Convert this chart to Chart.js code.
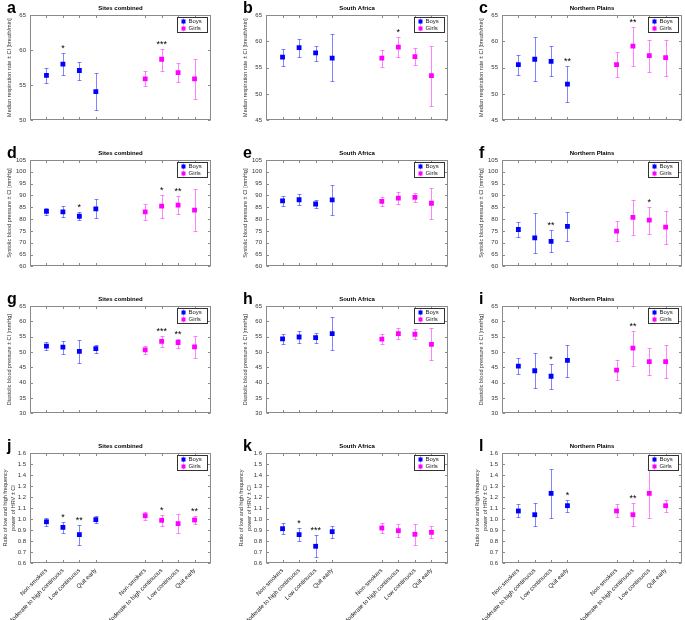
<!DOCTYPE html>
<html>
<head>
<meta charset="utf-8">
<script src="https://cdn.jsdelivr.net/npm/chart.js@4/dist/chart.umd.min.js"></script>
<style>
body{margin:0;background:#fff;width:685px;height:620px;position:relative;overflow:hidden;font-family:'Liberation Sans',Arial,sans-serif}
.letter{position:absolute;font-weight:bold;font-size:16px;line-height:16px;color:#000}
</style>
</head>
<body>
<script>
// categories / groups
var categories = ['Non-smokers', 'Moderate to high continuous', 'Low continuous', 'Quit early'];
var groups = ['Boys', 'Girls'];
var sites = ['Sites combined', 'South Africa', 'Northern Plains'];

// y axis titles and limits (one row per measure)
var yTitles = [
  'Median respiration rate \u00b1 CI [breath/min]',
  'Systolic blood pressure \u00b1 CI [mmHg]',
  'Diastolic blood pressure \u00b1 CI [mmHg]',
  ['Ratio of low and high frequency', 'power of HRV \u00b1 CI']
];
var yMin = [[50, 45, 45], [60, 60, 60], [30, 30, 30], [0.6, 0.6, 0.6]];
var yMax = [65, 105, 65, 1.6];
var yStep = [5, 5, 5, 0.1];

// values: [lower CI, median, upper CI] per category
var aBoys  = [[55.3, 56.4, 57.4], [56.4, 58.0, 59.6], [55.7, 57.1, 58.3], [51.5, 54.1, 56.8]];
var aGirls = [[54.9, 55.9, 57.0], [57.0, 58.7, 60.2], [55.5, 56.8, 58.1], [53.0, 55.9, 58.7]];
var bBoys  = [[55.4, 57.0, 58.6], [57.1, 58.8, 60.5], [56.3, 57.8, 59.2], [52.4, 56.8, 61.3]];
var bGirls = [[55.2, 56.8, 58.3], [57.1, 58.9, 60.9], [55.6, 57.1, 58.7], [47.8, 53.5, 59.2]];
var cBoys  = [[53.7, 55.6, 57.5], [52.5, 56.6, 60.8], [53.4, 56.2, 59.1], [48.4, 51.9, 55.4]];
var cGirls = [[53.2, 55.6, 57.9], [55.3, 59.1, 62.8], [54.2, 57.3, 60.3], [53.4, 56.9, 60.3]];

var dBoys  = [[81.8, 83.3, 84.7], [80.8, 83.1, 85.4], [79.5, 81.2, 83.1], [80.3, 84.3, 88.4]];
var dGirls = [[79.6, 83.1, 86.4], [80.5, 85.5, 90.3], [82.0, 85.9, 89.9], [74.9, 83.8, 92.8]];
var eBoys  = [[85.5, 87.7, 89.9], [85.8, 88.2, 90.8], [84.7, 86.4, 88.2], [81.8, 88.1, 94.4]];
var eGirls = [[85.5, 87.5, 89.5], [86.6, 88.9, 91.4], [87.3, 89.2, 91.2], [80.0, 86.7, 93.2]];
var fBoys  = [[72.3, 75.6, 78.6], [65.5, 72.1, 82.4], [66.0, 70.6, 75.6], [70.9, 76.9, 82.8]];
var fGirls = [[70.9, 74.9, 79.0], [73.2, 80.7, 88.0], [73.9, 79.6, 85.2], [69.3, 76.6, 83.6]];

var gBoys  = [[50.7, 51.9, 53.2], [49.5, 51.6, 53.5], [46.5, 50.2, 53.8], [49.8, 51.1, 52.4]];
var gGirls = [[49.4, 50.7, 51.9], [51.5, 53.5, 55.3], [51.3, 53.1, 54.4], [48.0, 51.7, 55.3]];
var hBoys  = [[52.5, 54.3, 56.0], [52.8, 54.9, 56.9], [53.1, 54.7, 56.2], [50.8, 56.0, 61.4]];
var hGirls = [[52.5, 54.2, 55.9], [54.1, 56.0, 57.8], [54.2, 55.8, 57.4], [47.3, 52.5, 57.8]];
var iBoys  = [[42.8, 45.4, 48.1], [38.3, 43.9, 49.6], [38.0, 42.1, 46.2], [42.0, 47.3, 52.4]];
var iGirls = [[41.0, 44.1, 47.4], [45.5, 51.3, 57.0], [42.4, 46.9, 51.3], [41.5, 46.9, 52.2]];

var jBoys  = [[0.94, 0.975, 1.01], [0.876, 0.924, 0.976], [0.76, 0.858, 0.948], [0.96, 0.994, 1.027]];
var jGirls = [[0.994, 1.03, 1.067], [0.94, 0.988, 1.033], [0.87, 0.958, 1.045], [0.958, 0.991, 1.027]];
var kBoys  = [[0.864, 0.912, 0.96], [0.8, 0.858, 0.918], [0.655, 0.752, 0.855], [0.827, 0.885, 0.94]];
var kGirls = [[0.87, 0.918, 0.967], [0.836, 0.894, 0.952], [0.76, 0.861, 0.958], [0.824, 0.879, 0.933]];
var lBoys  = [[1.015, 1.073, 1.136], [0.936, 1.039, 1.145], [1.009, 1.233, 1.455], [1.067, 1.121, 1.176]];
var lGirls = [[1.015, 1.073, 1.136], [0.936, 1.039, 1.145], [1.009, 1.233, 1.455], [1.067, 1.121, 1.176]];

// significance marks, boys then girls
var aStars = ['', '*', '', '', '', '***', '', ''];
var bStars = ['', '', '', '', '', '*', '', ''];
var cStars = ['', '', '', '**', '', '**', '', ''];
var dStars = ['', '', '*', '', '', '*', '**', ''];
var eStars = ['', '', '', '', '', '', '', ''];
var fStars = ['', '', '**', '', '', '', '*', ''];
var gStars = ['', '', '', '', '', '***', '**', ''];
var hStars = ['', '', '', '', '', '', '', ''];
var iStars = ['', '', '*', '', '', '**', '', ''];
var jStars = ['', '*', '**', '', '', '*', '', '**'];
var kStars = ['', '*', '***', '', '', '', '', ''];
var lStars = ['', '', '', '*', '', '**', '', ''];

var boysData  = [[aBoys, bBoys, cBoys], [dBoys, eBoys, fBoys], [gBoys, hBoys, iBoys], [jBoys, kBoys, lBoys]];
var girlsData = [[aGirls, bGirls, cGirls], [dGirls, eGirls, fGirls], [gGirls, hGirls, iGirls], [jGirls, kGirls, lGirls]];
var starsData = [[aStars, bStars, cStars], [dStars, eStars, fStars], [gStars, hStars, iStars], [jStars, kStars, lStars]];

// layout
var plotLeft = [30, 266, 502], plotRight = [213, 450, 684];
var plotTop = [15, 160, 306, 453], plotBottom = [124, 270, 417, 563];
var letters = 'abcdefghijkl';
var boysColor = '#0000ff', girlsColor = '#ff00ff';
var boysBar = 'rgba(50,50,255,0.6)', girlsBar = 'rgba(255,50,255,0.6)';

Chart.defaults.font.family = "'Liberation Sans', Arial, sans-serif";
Chart.defaults.animation = false;

// error bars, box, inward ticks, title, stars, legend
var panelPlugin = {
  id: 'panel',
  beforeDatasetsDraw: function(chart) {
    var ctx = chart.ctx, ys = chart.scales.y, xs = chart.scales.x;
    ctx.save();
    ctx.lineWidth = 1;
    chart.data.datasets.forEach(function(ds) {
      ctx.strokeStyle = ds.barColor;
      ds.err.forEach(function(e, i) {
        var px = Math.round(xs.getPixelForValue(ds.data[i].x)) + 0.5;
        var lo = Math.round(ys.getPixelForValue(e[0])) + 0.5, hi = Math.round(ys.getPixelForValue(e[2])) + 0.5;
        ctx.beginPath();
        ctx.moveTo(px, lo); ctx.lineTo(px, hi);
        ctx.moveTo(px - 2, lo); ctx.lineTo(px + 2, lo);
        ctx.moveTo(px - 2, hi); ctx.lineTo(px + 2, hi);
        ctx.stroke();
      });
    });
    ctx.restore();
  },
  afterDraw: function(chart, args, opts) {
    var ctx = chart.ctx, a = chart.chartArea, ys = chart.scales.y, xs = chart.scales.x;
    ctx.save();
    // box
    ctx.strokeStyle = '#8a8a8a';
    ctx.lineWidth = 1;
    var L = Math.round(a.left) + 0.5, R = Math.round(a.right) - 0.5, T = Math.round(a.top) + 0.5, B = Math.round(a.bottom) - 0.5;
    ctx.strokeRect(L, T, R - L, B - T);
    ctx.beginPath();
    ys.ticks.forEach(function(t) {
      var py = Math.round(ys.getPixelForValue(t.value)) + 0.5;
      ctx.moveTo(L, py); ctx.lineTo(L + 2.5, py);
      ctx.moveTo(R, py); ctx.lineTo(R - 2.5, py);
    });
    xs.ticks.forEach(function(t) {
      var px = Math.round(xs.getPixelForValue(t.value)) + 0.5;
      ctx.moveTo(px, T); ctx.lineTo(px, T + 2.5);
      ctx.moveTo(px, B); ctx.lineTo(px, B - 2.5);
    });
    ctx.stroke();
    // title
    ctx.fillStyle = '#000';
    ctx.font = "bold 6px 'Liberation Sans', Arial, sans-serif";
    ctx.textAlign = 'center';
    ctx.textBaseline = 'alphabetic';
    ctx.fillText(opts.title, (a.left + a.right) / 2, a.top - 5);
    // stars
    ctx.font = "9px 'Liberation Sans', Arial, sans-serif";
    var k = 0;
    chart.data.datasets.forEach(function(ds) {
      ds.err.forEach(function(e, i) {
        var s = opts.stars[k++];
        if (!s) return;
        ctx.fillText(s, xs.getPixelForValue(ds.data[i].x), ys.getPixelForValue(e[2]) - 2);
      });
    });
    // legend
    var bw = 30, bh = 15, bx = Math.round(a.right) - 4 - bw + 0.5, by = Math.round(a.top) + 2 + 0.5;
    ctx.fillStyle = '#fff';
    ctx.fillRect(bx, by, bw, bh);
    ctx.strokeStyle = '#333';
    ctx.strokeRect(bx, by, bw, bh);
    ctx.font = "6px 'Liberation Sans', Arial, sans-serif";
    ctx.textAlign = 'left';
    ctx.textBaseline = 'middle';
    chart.data.datasets.forEach(function(ds, j) {
      var cy = by + 4 + j * 7;
      ctx.strokeStyle = ds.barColor;
      ctx.beginPath();
      ctx.moveTo(bx + 6, cy - 3); ctx.lineTo(bx + 6, cy + 3);
      ctx.stroke();
      ctx.fillStyle = ds.backgroundColor;
      ctx.fillRect(bx + 4, cy - 2, 4, 4);
      ctx.fillStyle = '#222';
      ctx.fillText(ds.label, bx + 11, cy);
    });
    ctx.restore();
  }
};

function makePanel(r, c) {
  var extra = 14;
  var left = plotLeft[c] - 28 - extra, top = plotTop[r] - 16;
  var bottom = r === 3 ? 620 : plotBottom[r] + 4;
  var w = plotRight[c] - left + 2, h = bottom - top;
  var xH = bottom - plotBottom[r];

  var div = document.createElement('div');
  div.style.cssText = 'position:absolute;left:' + left + 'px;top:' + top + 'px;width:' + w + 'px;height:' + h + 'px';
  var cv = document.createElement('canvas');
  div.appendChild(cv);
  document.body.appendChild(div);

  var let = document.createElement('div');
  let.className = 'letter';
  let.style.left = (plotLeft[c] - 23) + 'px';
  let.style.top = (plotTop[r] - 15) + 'px';
  let.textContent = letters[r * 3 + c];
  document.body.appendChild(let);

  var boys = boysData[r][c], girls = girlsData[r][c];
  var xTicks = [];
  boys.forEach(function(d, i) { xTicks.push(i + 1); });
  girls.forEach(function(d, i) { xTicks.push(i + 7); });

  new Chart(cv, {
    type: 'scatter',
    data: {
      datasets: [
        { label: groups[0], data: boys.map(function(d, i) { return { x: i + 1, y: d[1] }; }), err: boys,
          backgroundColor: boysColor, borderColor: boysColor, barColor: boysBar,
          pointStyle: 'rect', pointRadius: 3.4, borderWidth: 0 },
        { label: groups[1], data: girls.map(function(d, i) { return { x: i + 7, y: d[1] }; }), err: girls,
          backgroundColor: girlsColor, borderColor: girlsColor, barColor: girlsBar,
          pointStyle: 'rect', pointRadius: 3.4, borderWidth: 0 }
      ]
    },
    options: {
      responsive: true,
      maintainAspectRatio: false,
      layout: { padding: { top: 16, right: 2, left: extra, bottom: 0 } },
      plugins: {
        legend: { display: false },
        tooltip: { enabled: false },
        panel: { title: sites[c], stars: starsData[r][c] }
      },
      scales: {
        x: {
          type: 'linear', min: 0, max: 11,
          grid: { display: false, drawTicks: false },
          border: { display: false },
          afterBuildTicks: function(s) { s.ticks = xTicks.map(function(v) { return { value: v }; }); },
          afterFit: function(s) { s.height = xH; },
          ticks: {
            display: r === 3, autoSkip: false, minRotation: 45, maxRotation: 45, padding: 4,
            color: '#222', font: { size: 6 },
            callback: function(v) { return v < 6 ? categories[v - 1] : categories[v - 7]; }
          }
        },
        y: {
          min: yMin[r][c], max: yMax[r],
          grid: { display: false, drawTicks: false },
          border: { display: false },
          afterFit: function(s) { s.width = 28; },
          ticks: { stepSize: yStep[r], padding: 4, color: '#333', font: { size: 6 } },
          title: {
            display: true, text: yTitles[r], color: '#333',
            font: { size: 5.5, lineHeight: 1.4 },
            padding: { top: r === 3 ? 0 : 3.5, bottom: 0 }
          }
        }
      }
    },
    plugins: [panelPlugin]
  });
}

for (var r = 0; r < 4; r++) {
  for (var c = 0; c < 3; c++) makePanel(r, c);
}
</script>
</body>
</html>
